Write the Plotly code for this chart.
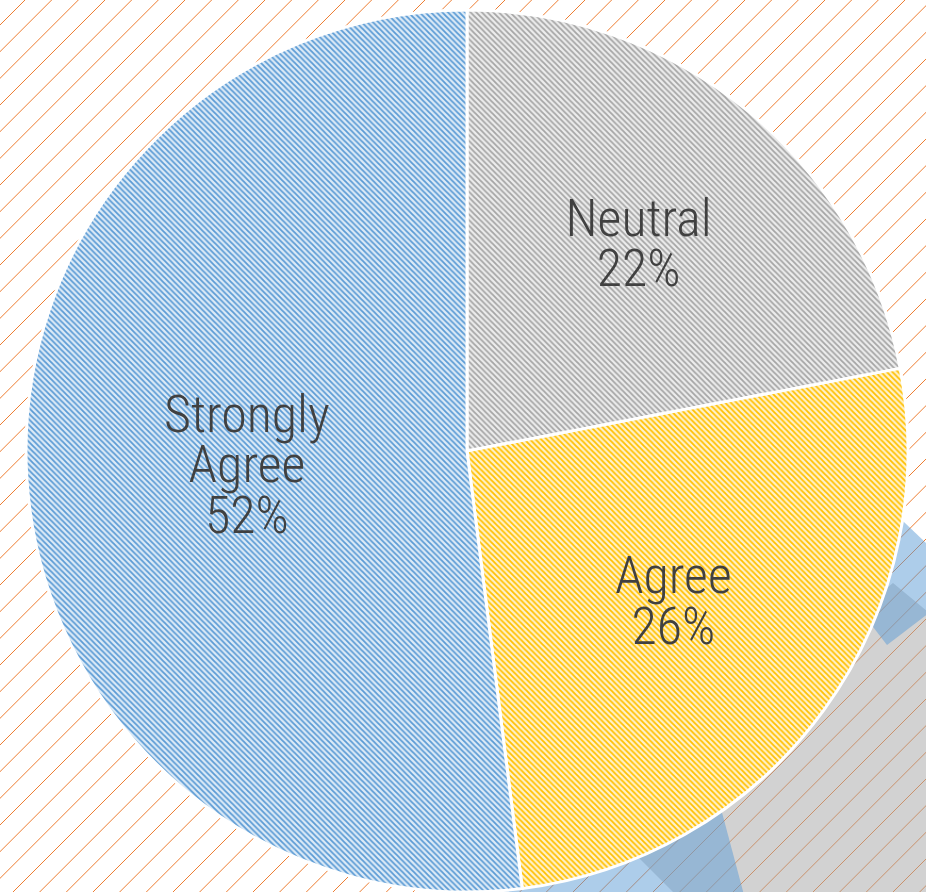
import plotly.graph_objects as go

# ---- data ----
labels = ["Neutral", "Agree", "Strongly Agree"]
values = [22, 26, 52]
fg_colors = ["#A5A5A5", "#FFC000", "#5B9BD5"]
bg_colors = ["#EDEDED", "#FFF2CC", "#DDEBF7"]

W, H = 926, 892
FONT = "Roboto Condensed, Roboto, Noto Sans, Liberation Sans, sans-serif"
BIG = 52
SPAN_STYLE = f"font-size:{BIG}px;font-weight:300"


def pt(x, y):
    return f"{x / W:.5f},{1 - y / H:.5f}"


def poly(points):
    return "M" + " L".join(pt(x, y) for x, y in points) + " Z"


# background hatch (orange diagonal lines)
step = 80 / 3
segs = []
c = 25 - 2 * step
while c < W + H + step:
    segs.append(f"M{pt(c, 0)} L{pt(c - H, H)}")
    c += step

shapes = [
    dict(type="path", xref="paper", yref="paper", path=" ".join(segs),
         line=dict(color="#ED7D31", width=1), layer="below"),
    # decorative translucent blocks (bottom right)
    dict(type="path", xref="paper", yref="paper",
         path=poly([(600, 819), (893, 583), (1000, 671), (1000, 1000), (781, 1000)]),
         fillcolor="rgba(165,165,165,0.5)", line=dict(width=0), layer="below"),
    dict(type="path", xref="paper", yref="paper",
         path=poly([(800, 423), (968, 583), (887, 645), (800, 532)]),
         fillcolor="rgba(91,155,213,0.5)", line=dict(width=0), layer="below"),
    dict(type="path", xref="paper", yref="paper",
         path=poly([(700, 730), (748, 910), (480, 910), (480, 800)]),
         fillcolor="rgba(91,155,213,0.5)", line=dict(width=0), layer="below"),
]

span = f"<span style='{SPAN_STYLE}'>"
texts = ["<br>".join(span + w + "</span>" for w in lab.split(" ")) for lab in labels]

fig = go.Figure(go.Pie(
    labels=labels,
    values=values,
    text=texts,
    texttemplate="%{text}<br>" + span + "%{percent}</span>",
    sort=False,
    direction="clockwise",
    rotation=0,
    textposition="inside",
    insidetextorientation="horizontal",
    insidetextfont=dict(family=FONT, size=39, color="#404040"),
    marker=dict(
        colors=bg_colors,
        pattern=dict(shape="\\", fgcolor=fg_colors, bgcolor=bg_colors,
                     size=4, solidity=0.45),
        line=dict(color="white", width=3),
    ),
    domain=dict(x=[25 / W, 909 / W], y=[0, 1 - 10 / H]),
    showlegend=False,
    hoverinfo="label+percent",
))

fig.update_layout(
    width=W, height=H,
    margin=dict(l=0, r=0, t=0, b=0),
    paper_bgcolor="white",
    plot_bgcolor="white",
    shapes=shapes,
    showlegend=False,
)

fig.write_html(
    "out.html",
    config={"displayModeBar": False},
    post_script="document.body.style.margin='0';document.body.style.overflow='hidden';",
)
